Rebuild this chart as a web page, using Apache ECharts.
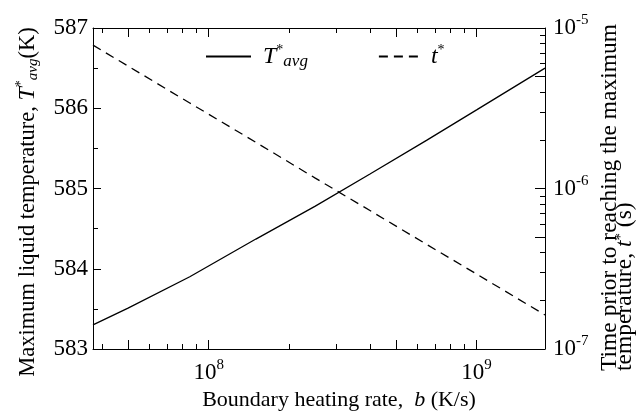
<!DOCTYPE html>
<html>
<head>
<meta charset="utf-8">
<script src="https://cdn.jsdelivr.net/npm/echarts@6/dist/echarts.min.js"></script>
<style>html,body{margin:0;padding:0;background:#fff;}#chart{width:641px;height:414px;}</style>
</head>
<body>
<div id="chart"></div>
<script>
// Boundary heating rate b (K/s)
const bValues = [3.7e7, 5e7, 8.5e7, 1.5e8, 2.5e8, 4e8, 6.5e8, 1e9, 1.8e9];
// Maximum liquid temperature T*avg (K)
const tAvgValues = [583.30, 583.51, 583.90, 584.37, 584.78, 585.18, 585.60, 585.98, 586.50];
// Time prior to reaching the maximum temperature t* (s)
const tStarValues = [7.82e-6, 5.79e-6, 3.41e-6, 1.94e-6, 1.16e-6, 7.29e-7, 4.49e-7, 2.93e-7, 1.63e-7];

const xMin = 3.7e7, xMax = 1.8e9;
const yLeftMin = 583, yLeftMax = 587;
const yRightMin = 1e-7, yRightMax = 1e-5;
const xMajorTicks = [5e7, 1e8, 5e8, 1e9];
const xMinorTicks = [4e7, 6e7, 7e7, 8e7, 9e7, 2e8, 3e8, 4e8, 6e8, 7e8, 8e8, 9e8];
const rMajorTicks = [1e-7, 5e-7, 1e-6, 5e-6, 1e-5];
const rMinorTicks = [2e-7, 3e-7, 4e-7, 6e-7, 7e-7, 8e-7, 9e-7, 2e-6, 3e-6, 4e-6, 6e-6, 7e-6, 8e-6, 9e-6];

const FONT = 'Liberation Serif';
const lg = Math.log10;

function isPow10(v) {
  const e = lg(v);
  return Math.abs(e - Math.round(e)) < 1e-6;
}
function powLabel(v) {
  if (!isPow10(v)) return '';
  return '{b|10}{s|' + Math.round(lg(v)) + '}';
}
const powRich = {
  b: {fontFamily: FONT, fontSize: 23, color: '#000'},
  s: {fontFamily: FONT, fontSize: 15, color: '#000', padding: [0, 0, 15, 0]}
};

function tickAxis(pos, min, max, vals, len, showLine) {
  return {
    type: 'value', position: pos, min: min, max: max,
    axisLine: {show: !!showLine, onZero: false, lineStyle: {color: '#000', width: 1}},
    axisTick: {show: true, inside: true, length: len, customValues: vals, lineStyle: {color: '#000', width: 1}},
    axisLabel: {show: false},
    splitLine: {show: false}
  };
}

const chart = echarts.init(document.getElementById('chart'), null, {renderer: 'canvas'});
chart.setOption({
  animation: false,
  backgroundColor: '#fff',
  textStyle: {fontFamily: FONT},
  grid: {left: 93, right: 96, top: 28, bottom: 65, containLabel: false, outerBoundsMode: 'none'},
  legend: {
    left: 205, top: 43, padding: 0, itemGap: 70, itemWidth: 45, itemHeight: 14,
    selectedMode: false,
    itemStyle: {opacity: 0},
    data: [{name: 'T*avg'}, {name: 't*'}],
    formatter: function (name) {
      return name === 'T*avg' ? '{i|T}{s|*}{sub|avg}' : '{j|t}{s|*}';
    },
    textStyle: {
      fontFamily: FONT, color: '#000', fontSize: 22,
      rich: {
        i: {fontFamily: FONT, fontStyle: 'italic', fontSize: 24, color: '#000', padding: [0, 0, 0, 7]},
        j: {fontFamily: FONT, fontStyle: 'italic', fontSize: 24, color: '#000', padding: [0, 0, 0, 2]},
        s: {fontFamily: FONT, fontSize: 14, color: '#000', padding: [0, 0, 13, 0]},
        sub: {fontFamily: FONT, fontStyle: 'italic', fontSize: 17, color: '#000', padding: [11, 0, 0, 0]}
      }
    }
  },
  xAxis: [
    {
      type: 'log', logBase: 10, position: 'bottom', min: xMin, max: xMax,
      axisLine: {show: true, onZero: false, lineStyle: {color: '#000', width: 1}},
      axisTick: {show: false},
      axisLabel: {formatter: powLabel, rich: powRich, margin: 9, showMinLabel: false, showMaxLabel: false},
      splitLine: {show: false}
    },
    tickAxis('bottom', lg(xMin), lg(xMax), xMajorTicks.map(lg), 9, false),
    tickAxis('bottom', lg(xMin), lg(xMax), xMinorTicks.map(lg), 5, false),
    tickAxis('top', lg(xMin), lg(xMax), xMajorTicks.map(lg), 9, true),
    tickAxis('top', lg(xMin), lg(xMax), xMinorTicks.map(lg), 5, false)
  ],
  yAxis: [
    {
      type: 'value', position: 'left', min: yLeftMin, max: yLeftMax, interval: 1,
      axisLine: {show: true, onZero: false, lineStyle: {color: '#000', width: 1}},
      axisTick: {show: true, inside: true, length: 8, lineStyle: {color: '#000'}},
      minorTick: {show: true, splitNumber: 2, length: 5, lineStyle: {color: '#000'}},
      axisLabel: {fontFamily: FONT, fontSize: 23, color: '#000', margin: 5},
      splitLine: {show: false}
    },
    {
      type: 'log', logBase: 10, position: 'right', min: yRightMin, max: yRightMax,
      axisLine: {show: true, onZero: false, lineStyle: {color: '#000', width: 1}},
      axisTick: {show: false},
      axisLabel: {formatter: powLabel, rich: powRich, margin: 8},
      splitLine: {show: false}
    },
    tickAxis('right', lg(yRightMin), lg(yRightMax), rMajorTicks.map(lg), 10, false),
    tickAxis('right', lg(yRightMin), lg(yRightMax), rMinorTicks.map(lg), 5, false)
  ],
  graphic: [
    {
      type: 'text', x: 339, y: 400,
      style: {
        text: 'Boundary heating rate,  {i|b} (K/s)',
        fontFamily: FONT, fontSize: 22, fill: '#000', align: 'center', verticalAlign: 'middle',
        rich: {i: {fontFamily: FONT, fontStyle: 'italic', fontSize: 22, fill: '#000'}}
      }
    },
    {
      type: 'text', x: 28, y: 202, rotation: Math.PI / 2,
      style: {
        text: 'Maximum liquid temperature, {i|T}{s|*}{sub|avg}(K)',
        fontFamily: FONT, fontSize: 22.5, fill: '#000', align: 'center', verticalAlign: 'middle',
        rich: {
          i: {fontFamily: FONT, fontStyle: 'italic', fontSize: 24, fill: '#000'},
          s: {fontFamily: FONT, fontSize: 14, fill: '#000', padding: [0, 0, 13, 0]},
          sub: {fontFamily: FONT, fontStyle: 'italic', fontSize: 15, fill: '#000', padding: [11, 0, 0, 0]}
        }
      }
    },
    {
      type: 'text', x: 602, y: 371, rotation: Math.PI / 2,
      style: {
        text: 'Time prior to reaching the maximum\ntemperature, {i|t}{s|*} (s)',
        fontFamily: FONT, fontSize: 23.5, lineHeight: 15.5, fill: '#000', align: 'left', verticalAlign: 'top',
        rich: {
          i: {fontFamily: FONT, fontStyle: 'italic', fontSize: 23.5, lineHeight: 15.5, fill: '#000'},
          s: {fontFamily: FONT, fontSize: 15, lineHeight: 15.5, fill: '#000', padding: [0, 0, 8, 0]}
        }
      }
    }
  ],
  series: [
    {
      name: 'T*avg', type: 'line', xAxisIndex: 0, yAxisIndex: 0,
      symbol: 'none', smooth: false,
      lineStyle: {color: '#000', width: 1.3, type: 'solid'},
      itemStyle: {color: '#000'},
      data: bValues.map((b, i) => [b, tAvgValues[i]])
    },
    {
      name: 't*', type: 'line', xAxisIndex: 0, yAxisIndex: 1,
      symbol: 'none', smooth: false,
      lineStyle: {color: '#000', width: 1.3, type: [9, 6]},
      itemStyle: {color: '#000'},
      data: bValues.map((b, i) => [b, tStarValues[i]])
    }
  ]
});
</script>
</body>
</html>
